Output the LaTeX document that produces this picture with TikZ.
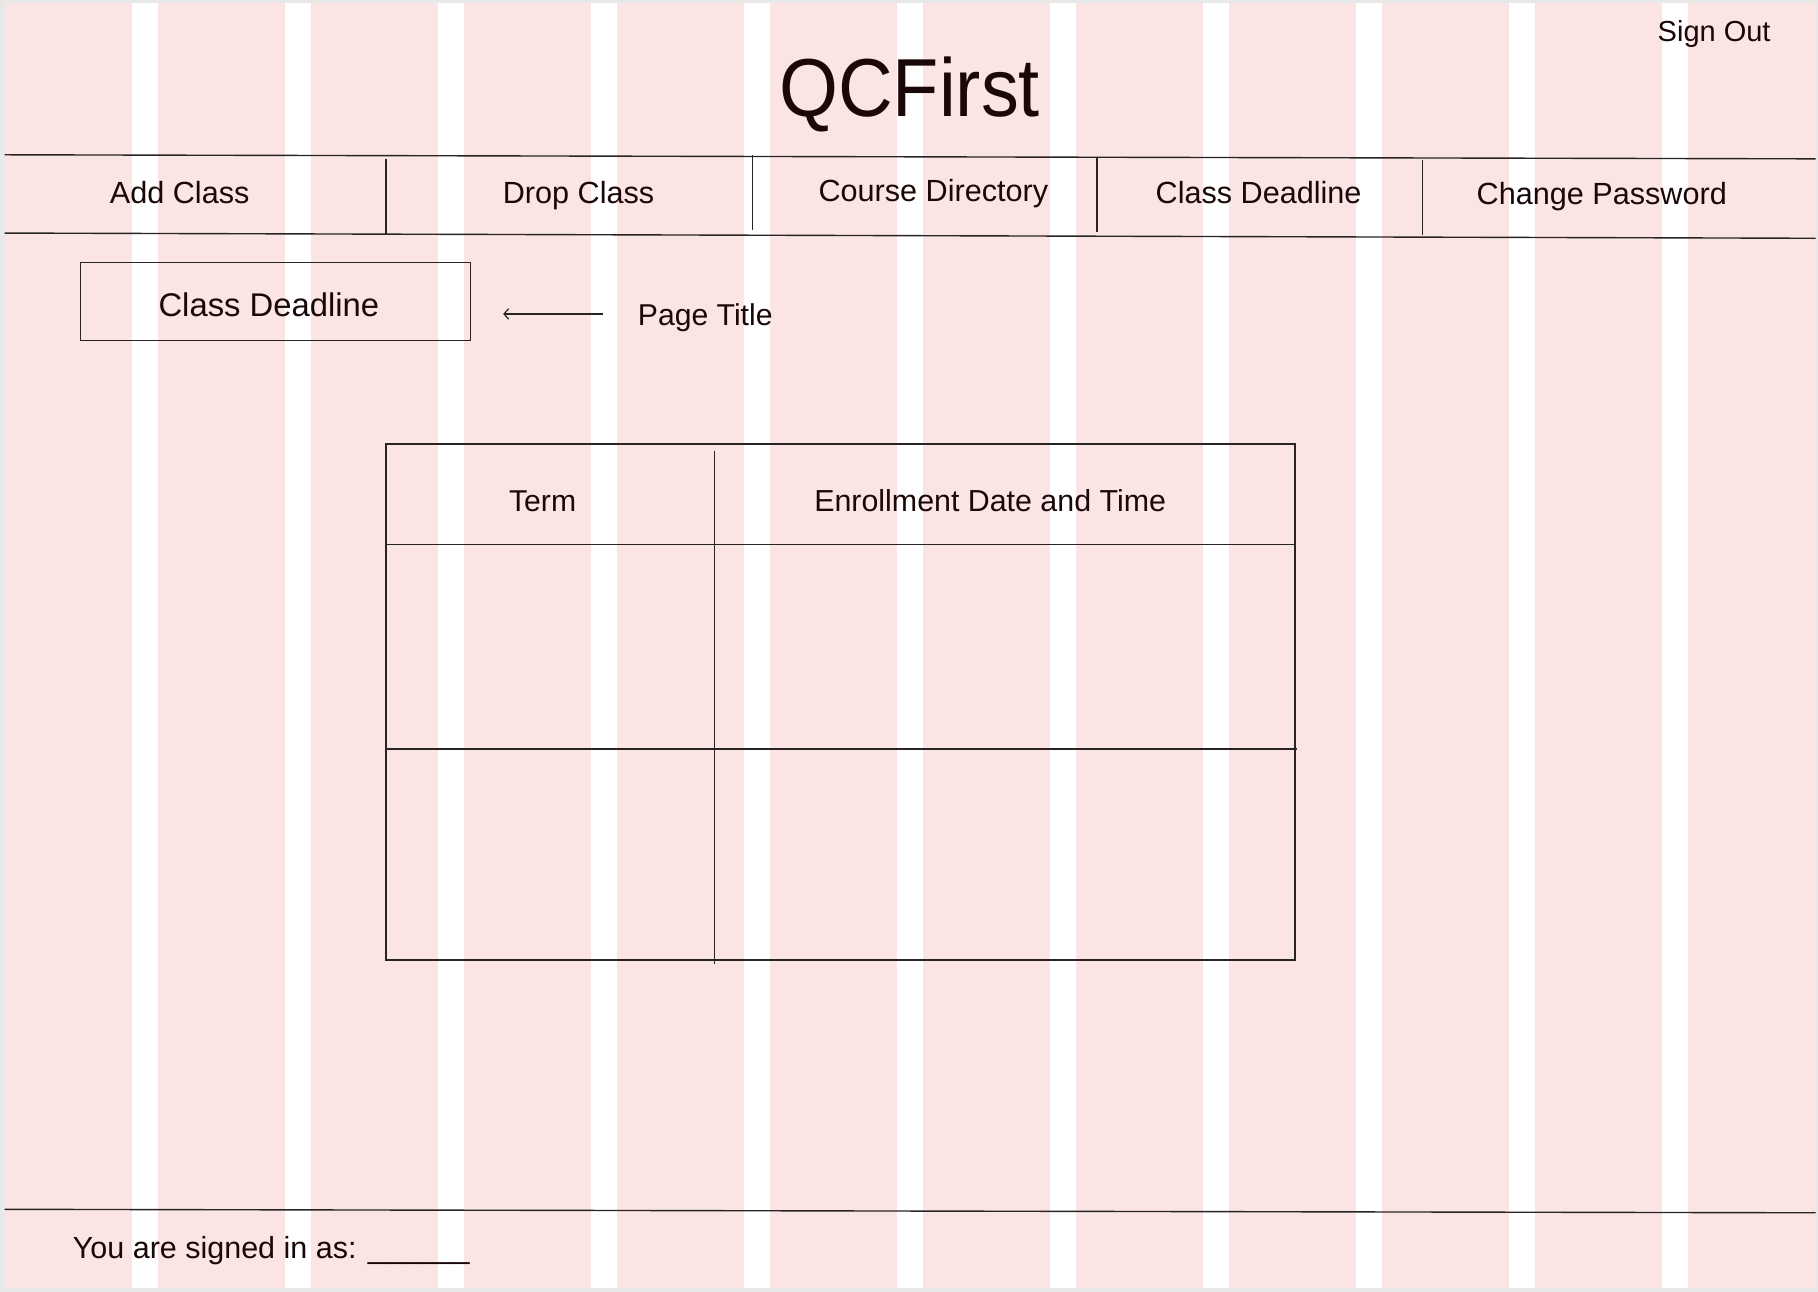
\documentclass[tikz,border=0pt]{standalone}
\usepackage{fontspec}
\setmainfont{Liberation Sans}
\newfontfamily\titlefont[FakeStretch=0.92]{Liberation Sans}
\usetikzlibrary{arrows.meta}
\definecolor{pinkbg}{RGB}{250,228,228}
\definecolor{framegrey}{RGB}{232,232,232}
\definecolor{ink}{RGB}{26,8,8}
\definecolor{linec}{RGB}{40,36,36}
\begin{document}
\begin{tikzpicture}[x=1pt,y=-1pt,
  lbl/.style={inner sep=0pt,text=ink,anchor=base,font=\fontsize{26}{30}\selectfont},
  navlbl/.style={lbl,font=\fontsize{26.4}{30}\selectfont},
  wire/.style={draw=linec,line width=1.2pt},
  framebox/.style={draw=linec,line width=1.2pt,inner sep=0pt,fill=none}
 ]
\useasboundingbox (0,0) rectangle (1568,1114);
% background and column grid
\fill[framegrey] (0,0) rectangle (1568,1114);
\fill[pinkbg] (4,3) rectangle (1566,1111);
\foreach \i in {0,...,10} \fill[white] ({114+131.95*\i},3) rectangle ({136+131.95*\i},1111);

% title and sign out
\node[lbl,font=\titlefont\fontsize{71}{80}\selectfont] (title) at (784.5,100.7) {QCFirst};
\node[lbl,font=\fontsize{25}{30}\selectfont] (signout) at (1478.4,35.9) {Sign Out};

% navigation bar
\draw[wire] (4,133.5) -- (1566,137);
\draw[wire] (4,201) -- (1566,205.5);
\draw[wire] (333,137) -- (333,201.5);
\draw[wire] (649,134) -- (649,198.4);
\draw[wire] (946,135) -- (946,200);
\draw[wire] (1227,138.3) -- (1227,202.7);
\node[navlbl] (addc) at (155,175.4) {Add Class};
\node[navlbl] (dropc) at (499,175.4) {Drop Class};
\node[navlbl] (course) at (805,174) {Course Directory};
\node[navlbl] (deadl) at (1085.5,175.4) {Class Deadline};
\node[navlbl] (chpw) at (1381.5,176) {Change Password};

% page title box
\node[framebox,minimum width=336.4pt,minimum height=67.2pt] (ptbox) at (237.5,259.9) {};
\node[lbl,font=\fontsize{28.3}{32}\selectfont] (pttext) at (231.9,272.6) {Class Deadline};
\coordinate (arrS) at (519.8,270.8);
\coordinate (arrE) at (434,270.8);
\draw[draw=linec,line width=1pt,-{Straight Barb[length=4pt,width=9pt]}] (arrS) -- (arrE);
\node[lbl,anchor=base west] (ptlabel) at (550,280.9) {Page Title};

% table
\draw[wire] (333,383) rectangle (1117,828);
\draw[wire] (333,469.8) -- (1117,469.8);
\draw[wire] (333,646) -- (1119,646);
\draw[wire] (616,388.7) -- (616,831);
\node[lbl,font=\fontsize{26}{30}\selectfont] (term) at (468,441.3) {Term};
\node[lbl,font=\fontsize{26.2}{30}\selectfont] (enroll) at (854,441.3) {Enrollment Date and Time};

% footer
\draw[wire] (4,1043) -- (1566,1046);
\node[lbl,anchor=base west,font=\fontsize{26.3}{30}\selectfont] (signed) at (62.7,1085.3) {You are signed in as: \_\_\_\_\_\_};
\end{tikzpicture}
\end{document}
